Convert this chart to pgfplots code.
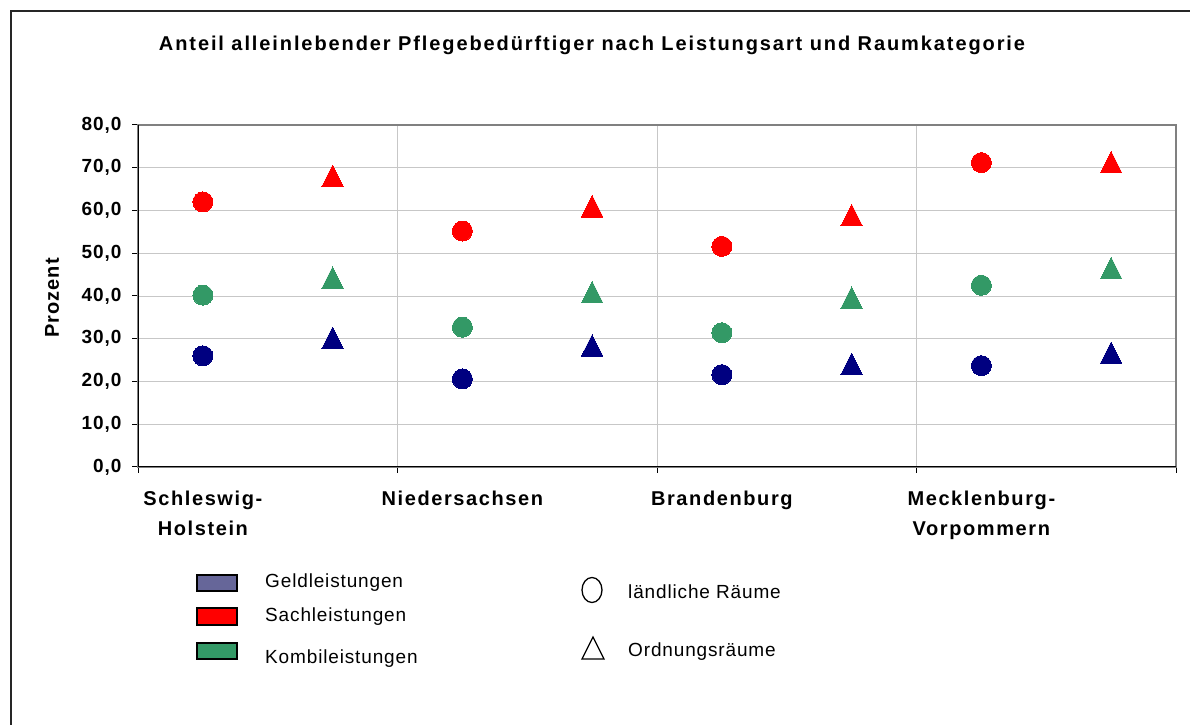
\documentclass[border=0pt]{standalone}
\usepackage{pgfplots}
\pgfplotsset{compat=1.18}
\usepackage{fontspec}
\setmainfont{Liberation Sans}
\newfontfamily\titlefont[LetterSpace=9.5]{Liberation Sans}
\newfontfamily\labfont[LetterSpace=8]{Liberation Sans}
\newfontfamily\tickfont[LetterSpace=5]{Liberation Sans}
\newfontfamily\legfont[LetterSpace=4.5]{Liberation Sans}
\definecolor{geld}{HTML}{000080}
\definecolor{sach}{HTML}{FF0000}
\definecolor{kombi}{HTML}{339966}
\definecolor{geldleg}{HTML}{666699}
\begin{document}
\begin{tikzpicture}[x=1bp,y=1bp]
\useasboundingbox (0,0) rectangle (1190,725);
\draw[line width=1.6bp, black!85] (11,0) -- (11,714) -- (1190,714);
\node[font=\titlefont\bfseries\fontsize{20bp}{24bp}\selectfont] at (592,680) {Anteil alleinlebender Pflegebedürftiger nach Leistungsart und Raumkategorie};
\node[font=\tickfont\bfseries\fontsize{20bp}{24bp}\selectfont, rotate=90] at (52,427) {Prozent};
\begin{axis}[
  at={(138bp,258bp)}, anchor=south west, scale only axis,
  width=1038bp, height=342bp,
  xmin=0, xmax=4, ymin=0, ymax=80,
  ytick={0,10,...,80},
  xtick={0,1,2,3,4}, xticklabels={},
  xtick pos=bottom, ytick pos=left,
  extra x ticks={0.25,1.25,2.25,3.25},
  extra x tick labels={Schleswig-\\Holstein, Niedersachsen, Brandenburg, Mecklenburg-\\Vorpommern},
  extra x tick style={major tick length=0pt, grid=none,
     xticklabel style={align=center, font=\labfont\bfseries\fontsize{20bp}{30bp}\selectfont, anchor=north, yshift=-20bp}},
  xmajorgrids, ymajorgrids,
  grid style={black!22, line width=0.9bp},
  tick align=outside, major tick length=6bp,
  tick style={black, line width=1bp},
  axis line style={black!50, line width=1.6bp},
  yticklabel style={font=\tickfont\bfseries\fontsize{19bp}{22bp}\selectfont, xshift=-7bp},
  /pgf/number format/.cd, use comma, fixed, fixed zerofill, precision=1, assume math mode=true,
]
\draw[black, line width=1.3bp] (rel axis cs:0,1) -- (rel axis cs:0,0) -- (rel axis cs:1,0);
% laendliche Raeume (circles)
\addplot[only marks, mark=*, mark size=10bp, color=geld, mark options={line width=0pt}] coordinates {(0.25,26.0) (1.25,20.6) (2.25,21.6) (3.25,23.7)};
\addplot[only marks, mark=*, mark size=10bp, color=sach, mark options={line width=0pt}] coordinates {(0.25,62.0) (1.25,55.2) (2.25,51.6) (3.25,71.2)};
\addplot[only marks, mark=*, mark size=10bp, color=kombi, mark options={line width=0pt}] coordinates {(0.25,40.2) (1.25,32.7) (2.25,31.4) (3.25,42.5)};
% Ordnungsraeume (triangles)
\addplot[only marks, mark=triangle*, mark size=12.5bp, color=geld, mark options={line width=0pt, yshift=-3.6bp, yscale=1.15}] coordinates {(0.75,30.2) (1.75,28.4) (2.75,24.1) (3.75,26.7)};
\addplot[only marks, mark=triangle*, mark size=12.5bp, color=sach, mark options={line width=0pt, yshift=-3.6bp, yscale=1.15}] coordinates {(0.75,68.1) (1.75,61.0) (2.75,58.9) (3.75,71.3)};
\addplot[only marks, mark=triangle*, mark size=12.5bp, color=kombi, mark options={line width=0pt, yshift=-3.6bp, yscale=1.15}] coordinates {(0.75,44.3) (1.75,40.9) (2.75,39.6) (3.75,46.5)};
\end{axis}
% legend
\draw[black, line width=1.3bp, fill=geldleg] (197,134) rectangle (237,150);
\draw[black, line width=1.3bp, fill=sach] (197,100) rectangle (237,117);
\draw[black, line width=1.3bp, fill=kombi] (197,66) rectangle (237,82);
\begin{scope}[every node/.style={anchor=west, inner sep=0pt, font=\legfont\fontsize{19bp}{22bp}\selectfont}]
\node at (265,142) {Geldleistungen};
\node at (265,108) {Sachleistungen};
\node at (265,66) {Kombileistungen};
\node at (628,133) {ländliche Räume};
\node at (628,73) {Ordnungsräume};
\end{scope}
\draw[black, line width=1.3bp] (592,135) ellipse [x radius=10, y radius=12.5];
\draw[black, line width=1.3bp, line join=miter] (582,66) -- (604,66) -- (593,88) -- cycle;
\end{tikzpicture}
\end{document}
